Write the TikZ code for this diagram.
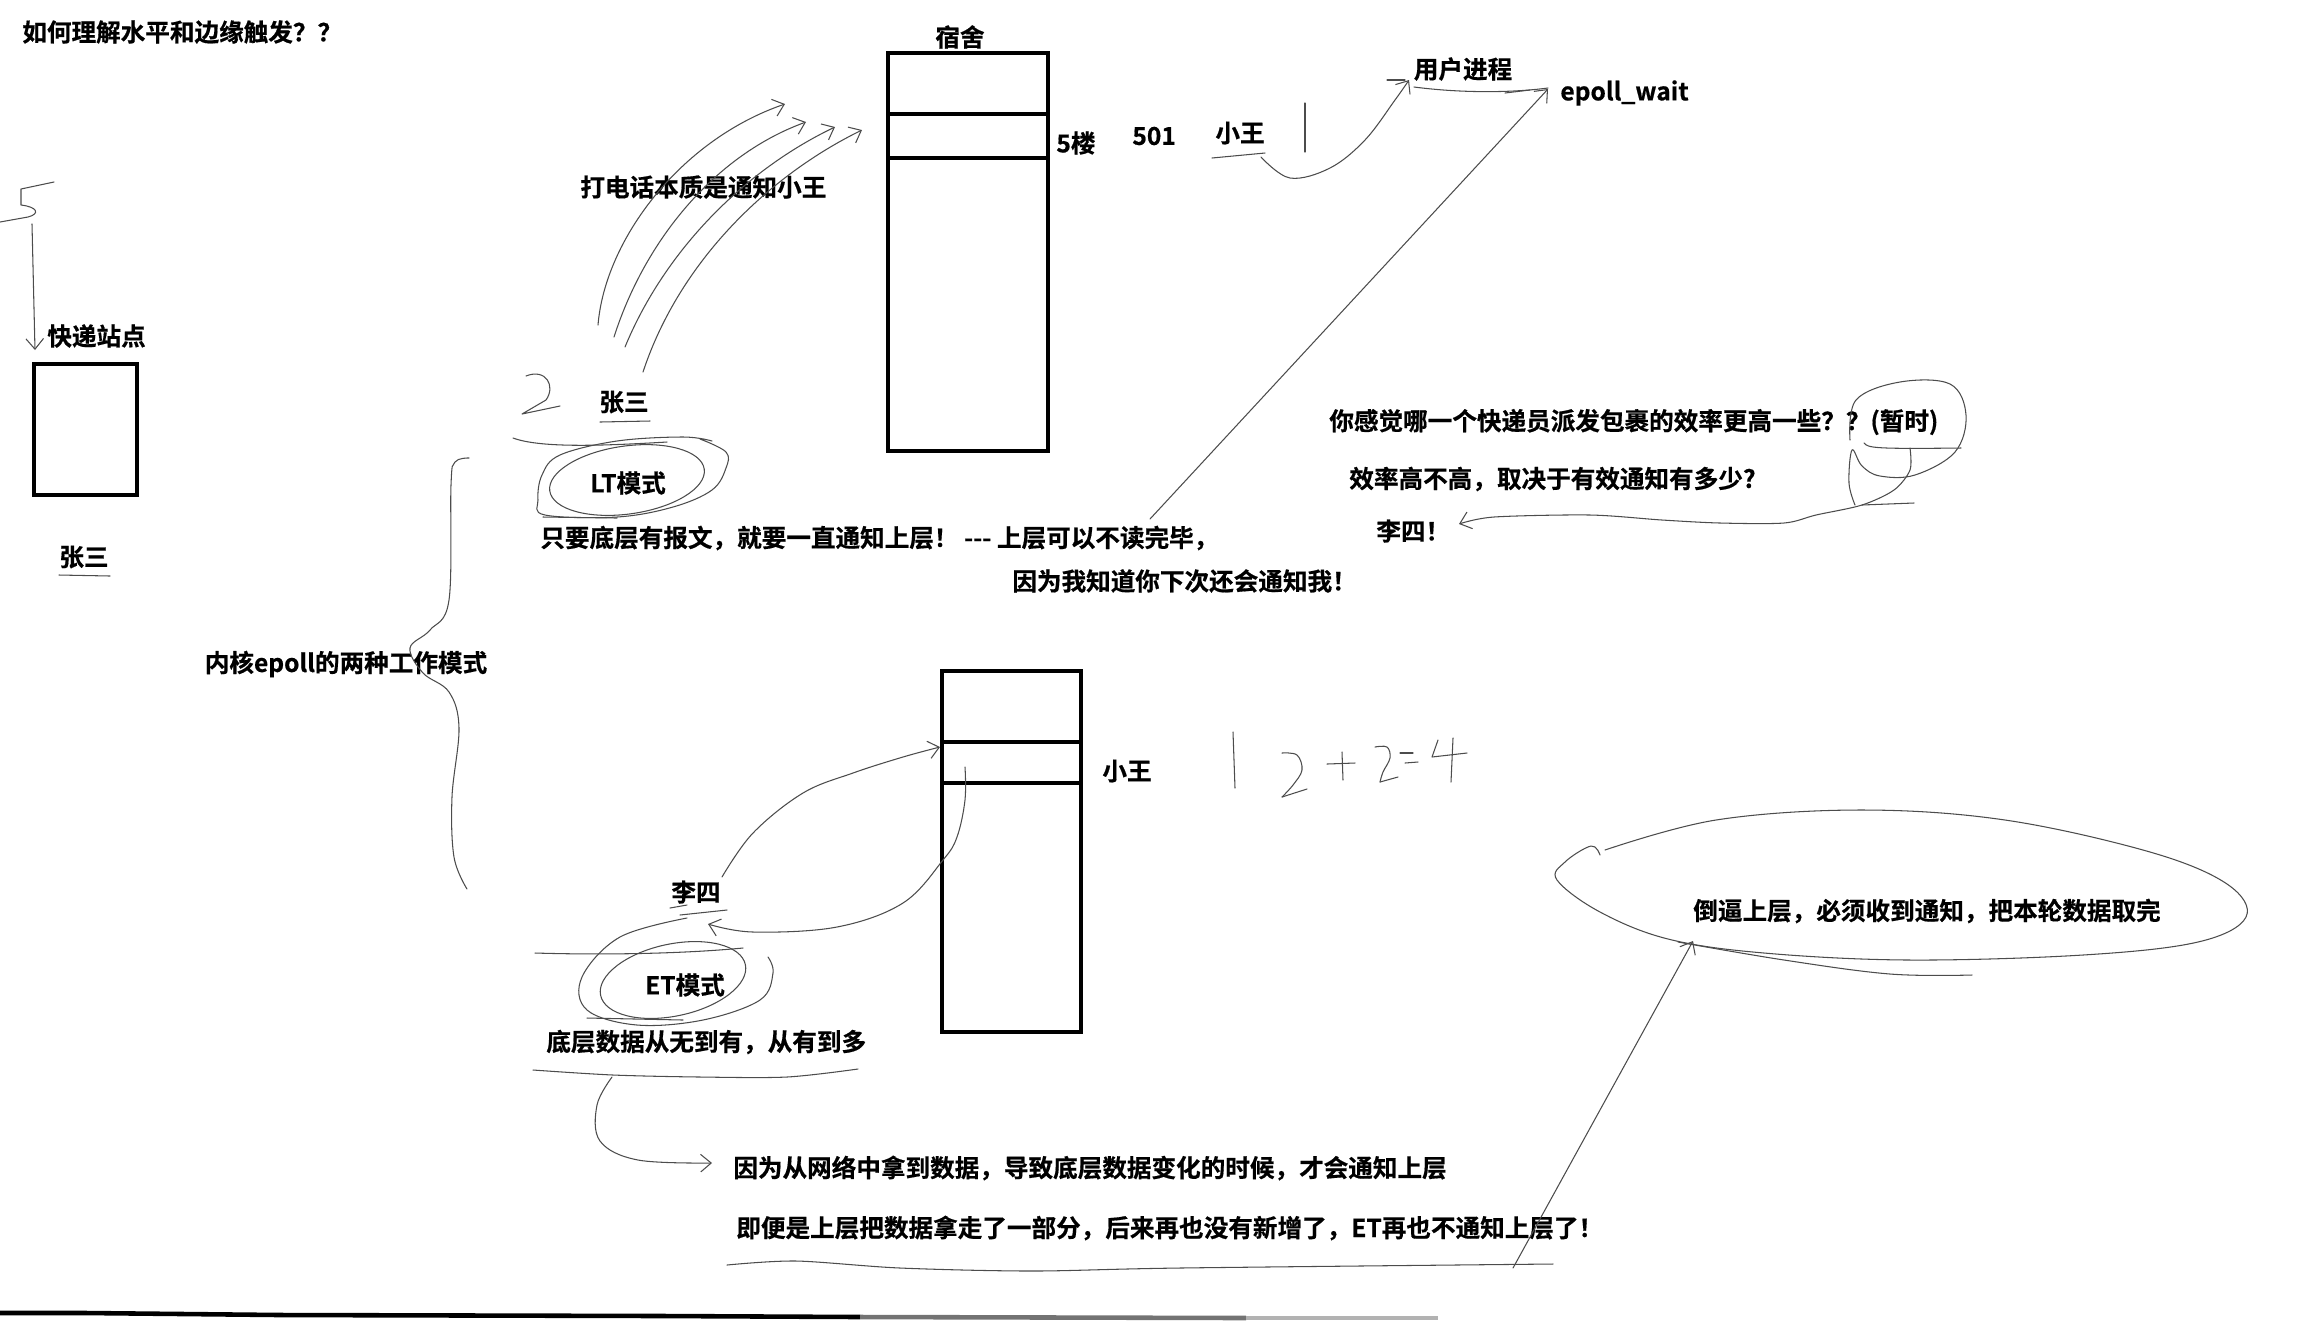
\documentclass[tikz,border=0pt]{standalone}
\usepackage{fontspec}
\newfontfamily\cjk{Noto Sans CJK SC}[BoldFont={Noto Sans CJK SC Bold}, BoldFeatures={FakeBold=0.6}]
\usetikzlibrary{arrows.meta}

\begin{document}
\begin{tikzpicture}[
    x=0.02cm, y=-0.02cm,
    every node/.style={font=\cjk\bfseries\fontsize{14}{16}\selectfont, inner sep=0pt},
    pen/.style={draw=black!70, line width=0.6pt, line cap=round, line join=round},
    penarrow/.style={pen, -{Straight Barb[length=6pt, width=10pt, line width=0.6pt]}},
    wall/.style={draw=black, line width=2.3pt},
    bar/.style={draw=black, line width=2.6pt}
]
\useasboundingbox (0,0) rectangle (2312,1320);

% texts
\node[anchor=west] (title) at (22,32) {如何理解水平和边缘触发？？};
\node[anchor=west] (station) at (47,336) {快递站点};
\node (zs1) at (84,557) {张三};
\node (dorm) at (960,37) {宿舍};
\node[anchor=west] (floor) at (1056,143) {5楼};
\node[anchor=west] (room) at (1132,136) {501};
\node (wang1) at (1240,133) {小王};
\node (proc) at (1463,69) {用户进程};
\node[anchor=west] (epoll) at (1560,93) {epoll\_wait};
\node[anchor=west] (phone) at (580,187) {打电话本质是通知小王};
\node (zs2) at (624,402) {张三};
\node (lt) at (628,483) {LT模式};
\node[anchor=west] (ltnote) at (540,538) {只要底层有报文，就要一直通知上层！ -\kern0pt-\kern0pt- 上层可以不读完毕，};
\node[anchor=west] (because) at (1012,581) {因为我知道你下次还会通知我！};
\node[anchor=west] (quest) at (1329,422) {你感觉哪一个快递员派发包裹的效率更高一些？？(暂时)};
\node[anchor=west] (eff) at (1349,479) {效率高不高，取决于有效通知有多少?};
\node[anchor=west] (lisi1) at (1376,531) {李四！};
\node (kernel) at (346,664) {内核epoll的两种工作模式};
\node (wang2) at (1127,771) {小王};
\node (lisi2) at (696,892) {李四};
\node (et) at (685,985) {ET模式};
\node[anchor=west] (etnote) at (546,1042) {底层数据从无到有，从有到多};
\node[anchor=west] (net) at (733,1168) {因为从网络中拿到数据，导致底层数据变化的时候，才会通知上层};
\node[anchor=west] (even) at (736,1228) {即便是上层把数据拿走了一部分，后来再也没有新增了，ET再也不通知上层了！};
\node[anchor=west] (force) at (1693,911) {倒逼上层，必须收到通知，把本轮数据取完};

% boxes
\draw[wall] (34,364) rectangle (137,495);
\draw[wall] (888,53) rectangle (1048,451);
\draw[wall] (888,114) -- (1048,114);
\draw[wall] (888,158) -- (1048,158);
\draw[wall] (942,671) rectangle (1081,1032);
\draw[wall] (942,742) -- (1081,742);
\draw[wall] (942,783) -- (1081,783);

% left part
\draw[pen] (54,182) -- (21,189) -- (21,205) .. controls (38,207) and (40,214) .. (28,217) -- (0,222);
\draw[penarrow] (32,224) -- (35,350);
\draw[pen] (59,575) -- (110,576);

% phone calls
\draw[penarrow] (598,325) .. controls (605,240) and (680,140) .. (785,104);
\draw[penarrow] (614,337) .. controls (645,240) and (715,155) .. (806,122);
\draw[penarrow] (625,347) .. controls (665,250) and (745,170) .. (835,127);
\draw[penarrow] (643,372) .. controls (680,260) and (770,175) .. (862,130);

% LT
\draw[pen] (526,376) .. controls (546,368) and (556,386) .. (546,400) -- (522,414) -- (560,406);
\draw[pen] (600,422) -- (650,421);
\draw[pen] (513,438) .. controls (540,448) and (600,446) .. (667,442);
\draw[pen] plot[smooth, tension=0.6] coordinates {(700,439) (726,452) (726,468) (712,490) (673,507) (617,517) (545,515) (538,500) (542,475) (560,455) (617,441) (683,437) (712,441)};
\draw[pen, rotate around={8:(627,480)}] (627,480) ellipse [x radius=78, y radius=34];
\draw[pen] (543,517) -- (617,518);

% user process
\draw[pen] (1212,158) -- (1265,153);
\draw[pen] (1305,103) -- (1305,152);
\draw[penarrow] plot[smooth, tension=0.6] coordinates {(1261,157) (1290,178) (1330,168) (1365,140) (1395,100) (1409,80)};
\draw[pen] (1387,80) -- (1405,80);
\draw[pen] (1414,87) .. controls (1460,93) and (1510,93) .. (1548,88);
\draw[pen] (1505,93) -- (1530,90);
\draw[penarrow] (1150,519) -- (1548,89);

% question
\draw[pen] plot[smooth, tension=0.6] coordinates {(1850,440) (1856,400) (1900,382) (1950,384) (1966,415) (1955,452) (1915,475) (1880,476) (1862,466) (1852,450) (1849,483) (1855,505)};
\draw[pen] (1864,443) .. controls (1868,448) and (1874,449) .. (1961,448);
\draw[penarrow] plot[smooth, tension=0.5] coordinates {(1910,448) (1910,470) (1894,490) (1862,505) (1816,515) (1784,523) (1720,523) (1662,520) (1590,515) (1494,517) (1459,524)};
\draw[pen] (1862,505) -- (1914,503);

% kernel brace
\draw[pen] plot[smooth, tension=0.6] coordinates {(469,458) (455,462) (451,485) (449,600) (430,630) (410,648) (423,673) (449,692) (459,728) (452,797) (454,857) (467,889)};

% ET
\draw[penarrow] plot[smooth, tension=0.6] coordinates {(965,767) (965,800) (957,837) (943,860) (903,903) (837,927) (753,932) (708,924)};
\draw[penarrow] plot[smooth, tension=0.6] coordinates {(722,877) (753,833) (803,793) (853,773) (903,757) (940,747)};
\draw[pen] (670,908) -- (687,905);
\draw[pen] (680,915) -- (727,910);
\draw[pen] plot[smooth, tension=0.6] coordinates {(687,918) (620,937) (582,977) (587,1010) (637,1025) (703,1020) (760,1000) (773,973) (768,957)};
\draw[pen] (535,953) .. controls (600,955) and (680,954) .. (743,948);
\draw[pen, rotate around={12:(673,980)}] (673,980) ellipse [x radius=74, y radius=36];
\draw[pen] (587,1018) -- (683,1020);
\draw[pen] plot[smooth, tension=0.5] coordinates {(533,1070) (613,1075) (700,1077) (787,1077) (858,1069)};
\draw[penarrow] plot[smooth, tension=0.6] coordinates {(612,1077) (597,1105) (600,1141) (638,1160) (712,1163)};
\draw[pen] plot[smooth, tension=0.5] coordinates {(727,1265) (796,1261) (900,1268) (1032,1271) (1180,1268) (1553,1264)};

% force
\draw[pen] plot[smooth, tension=0.6] coordinates {(1600,855) (1591,846) (1565,862) (1557,880) (1600,912) (1668,939) (1764,953) (1909,960) (2083,955) (2198,942) (2246,917) (2227,884) (2150,852) (2005,820) (1861,810) (1716,820) (1605,850)};
\draw[pen] plot[smooth, tension=0.6] coordinates {(1678,942) (1784,960) (1890,974) (1972,975)};
\draw[penarrow] (1513,1268) -- (1693,941);

% 2+2=4
\draw[pen] (1233,732) -- (1235,788);
\draw[pen] plot[smooth, tension=0.6] coordinates {(1282,753) (1297,755) (1302,770) (1293,785) (1282,797)};
\draw[pen] (1282,797) -- (1307,789);
\draw[pen] (1327,764) -- (1355,763);
\draw[pen] (1342,752) -- (1343,780);
\draw[pen] plot[smooth, tension=0.6] coordinates {(1375,747) (1387,747) (1390,758) (1383,772) (1380,782)};
\draw[pen] (1380,782) -- (1398,777);
\draw[pen] (1400,753) -- (1413,753);
\draw[pen] (1405,763) -- (1418,762);
\draw[pen] (1438,740) -- (1432,757) -- (1467,753);
\draw[pen] (1453,738) -- (1451,782);

% bottom bar
\draw[bar] (0,1313) -- (86,1313) -- (280,1315) -- (664,1316) -- (860,1317);
\draw[bar, black!55] (860,1317) -- (1246,1318);
\draw[bar, black!30] (1246,1318) -- (1438,1318);
\end{tikzpicture}
\end{document}
